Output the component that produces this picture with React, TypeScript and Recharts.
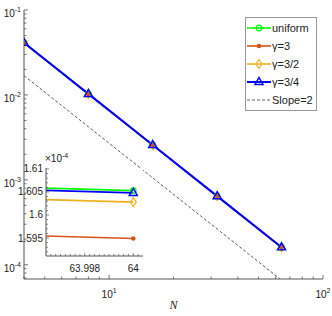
import { CartesianGrid, Legend, Line, LineChart, XAxis, YAxis } from "recharts";

// convergence data, N = number of elements
const nValues = [4, 8, 16, 32, 64];
const uniformErr = [0.04115, 0.01029, 0.002572, 6.43e-4, 1.6053e-4];
const gamma3Err = [0.0409, 0.01022, 0.002556, 6.39e-4, 1.5949e-4];
const gamma32Err = [0.04105, 0.01026, 0.002566, 6.415e-4, 1.6028e-4];
const gamma34Err = [0.04112, 0.01028, 0.002571, 6.43e-4, 1.6048e-4];
const slopeRef = [0.016875, 0.0042188, 0.0010547, 2.637e-4, 6.59e-5];

const seriesNames = ["uniform", "γ=3", "γ=3/2", "γ=3/4", "Slope=2"];

// main axis ticks
const xMajor = [10, 100];
const xTicks = [4, 5, 6, 7, 8, 9, 10, 20, 30, 40, 50, 60, 70, 80, 90, 100];
const yMajor = [1e-4, 1e-3, 1e-2, 1e-1];
const yTicks = [
  7e-5, 8e-5, 9e-5, 1e-4, 2e-4, 3e-4, 4e-4, 5e-4, 6e-4, 7e-4, 8e-4, 9e-4,
  1e-3, 2e-3, 3e-3, 4e-3, 5e-3, 6e-3, 7e-3, 8e-3, 9e-3,
  1e-2, 2e-2, 3e-2, 4e-2, 5e-2, 6e-2, 7e-2, 8e-2, 9e-2, 1e-1,
];

// inset (zoom near N = 64), y values in units of 1e-4
const insetXLabels = [63.998, 64];
const insetXTicks = [
  63.9966, 63.9968, 63.997, 63.9972, 63.9974, 63.9976, 63.9978, 63.998,
  63.9982, 63.9984, 63.9986, 63.9988, 63.999, 63.9992, 63.9994, 63.9996,
  63.9998, 64, 64.0002,
];
const insetYLabels = [1.595, 1.6, 1.605, 1.61];
const insetYTicks = [
  1.592, 1.593, 1.594, 1.595, 1.596, 1.597, 1.598, 1.599, 1.6, 1.601, 1.602,
  1.603, 1.604, 1.605, 1.606, 1.607, 1.608, 1.609, 1.61,
];

const GREEN = "#00ff00";
const RED = "#d95319";
const YELLOW = "#edb120";
const BLUE = "#0000ff";
const AX = "#555";
const FONT = "'Liberation Sans', Arial, Helvetica, sans-serif";

const rows = nValues.map((n, i) => ({
  N: n,
  uniform: uniformErr[i],
  g3: gamma3Err[i],
  g32: gamma32Err[i],
  g34: gamma34Err[i],
  slope: slopeRef[i],
}));
const insetRows = rows.filter((r) => r.N >= 32);

const near = (v: number, list: number[]) =>
  list.some((m) => Math.abs(m - v) <= Math.abs(m) * 1e-7);

type Side = "bottom" | "top" | "left" | "right";

function tickDir(side: Side, len: number) {
  if (side === "bottom") return [0, -len];
  if (side === "top") return [0, len];
  if (side === "left") return [len, 0];
  return [-len, 0];
}

function LogTick(props: any) {
  const { x = 0, y = 0, payload, side, label } = props;
  const v = payload?.value ?? 0;
  const major = near(v, side === "bottom" || side === "top" ? xMajor : yMajor);
  const [dx, dy] = tickDir(side, major ? 4 : 2.5);
  const exp = String(Math.round(Math.log10(v)));
  return (
    <g>
      <line x1={x} y1={y} x2={x + dx} y2={y + dy} stroke={AX} strokeWidth={0.8} />
      {label && major && side === "bottom" && (
        <text x={x} y={y + 19} textAnchor="middle" fontSize={10} fontFamily={FONT} fill="#222">
          10<tspan dy={-5} fontSize={7}>{exp}</tspan>
        </text>
      )}
      {label && major && side === "left" && (
        <text x={x - 3} y={y + 7} textAnchor="end" fontSize={10} fontFamily={FONT} fill="#222">
          10<tspan dy={-5} fontSize={7}>{exp}</tspan>
        </text>
      )}
    </g>
  );
}

function InsetTick(props: any) {
  const { x = 0, y = 0, payload, side, label } = props;
  const v = payload?.value ?? 0;
  const horiz = side === "bottom" || side === "top";
  const major = horiz ? near(v, insetXLabels) : near(v * 1e4, insetYLabels);
  const [dx, dy] = tickDir(side, major ? 3 : 2);
  return (
    <g>
      <line x1={x} y1={y} x2={x + dx} y2={y + dy} stroke={AX} strokeWidth={0.7} />
      {label && major && side === "bottom" && (
        <text x={x} y={y + 16} textAnchor="middle" fontSize={10} fontFamily={FONT} fill="#222">
          {String(parseFloat(v.toFixed(4)))}
        </text>
      )}
      {label && major && side === "left" && (
        <text x={x - 3} y={y + 3.5} textAnchor="end" fontSize={10} fontFamily={FONT} fill="#222">
          {String(parseFloat((v * 1e4).toFixed(4)))}
        </text>
      )}
    </g>
  );
}

function Marker({ kind, cx, cy, color }: { kind: string; cx: number; cy: number; color: string }) {
  if (kind === "circle")
    return <circle cx={cx} cy={cy} r={2.8} fill="none" stroke={color} strokeWidth={1.2} />;
  if (kind === "dot") return <circle cx={cx} cy={cy} r={2.3} fill={color} />;
  if (kind === "diamond")
    return (
      <polygon
        points={`${cx},${cy - 4.5} ${cx + 3},${cy} ${cx},${cy + 4.5} ${cx - 3},${cy}`}
        fill="none"
        stroke={color}
        strokeWidth={1.2}
      />
    );
  if (kind === "triangle")
    return (
      <polygon
        points={`${cx},${cy - 4.5} ${cx + 4},${cy + 2.5} ${cx - 4},${cy + 2.5}`}
        fill="none"
        stroke={color}
        strokeWidth={1.5}
      />
    );
  return null;
}

const series = [
  { key: "uniform", name: seriesNames[0], color: GREEN, marker: "circle", width: 1.6 },
  { key: "g3", name: seriesNames[1], color: RED, marker: "dot", width: 1.6 },
  { key: "g32", name: seriesNames[2], color: YELLOW, marker: "diamond", width: 1.6 },
  { key: "g34", name: seriesNames[3], color: BLUE, marker: "triangle", width: 2 },
];

function makeDot(kind: string, color: string, onlyLast: boolean) {
  return (p: any) => {
    if (p.cx == null || p.cy == null || (onlyLast && p.payload?.N !== 64))
      return <g key={`d-${p.index}`} />;
    return (
      <g key={`d-${p.index}`}>
        <Marker kind={kind} cx={p.cx} cy={p.cy} color={color} />
      </g>
    );
  };
}

function LegendBox() {
  const items = [...series, { key: "slope", name: seriesNames[4], color: "#333", marker: "none", width: 1 }];
  return (
    <div
      style={{
        border: "1px solid #999",
        background: "#fff",
        width: 70,
        padding: "1px 0",
        fontFamily: FONT,
        fontSize: 11,
        color: "#222",
      }}
    >
      {items.map((it) => (
        <div key={it.key} style={{ height: 18, display: "flex", alignItems: "center" }}>
          <svg width={26} height={18} style={{ flex: "none" }}>
            <line
              x1={1}
              y1={9}
              x2={25}
              y2={9}
              stroke={it.color}
              strokeWidth={it.key === "slope" ? 0.8 : it.width}
              strokeDasharray={it.key === "slope" ? "3 2" : undefined}
            />
            <Marker kind={it.marker} cx={13} cy={9} color={it.color} />
          </svg>
          <span style={{ whiteSpace: "nowrap" }}>{it.name}</span>
        </div>
      ))}
    </div>
  );
}

export default function App() {
  return (
    <div style={{ position: "absolute", left: 0, top: 0, width: 332, height: 316, background: "#fff" }}>
      <LineChart width={332} height={316} data={rows} margin={{ top: 10, right: 9, bottom: 0, left: 0 }}>
        <XAxis
          dataKey="N"
          type="number"
          scale="log"
          domain={[4, 100]}
          allowDataOverflow
          ticks={xTicks}
          interval={0}
          tickSize={0}
          tickMargin={0}
          tickLine={false}
          height={37}
          axisLine={{ stroke: AX }}
          tick={(p: any) => <LogTick {...p} side="bottom" label />}
          label={{
            content: ({ viewBox }: any) => (
              <text
                x={viewBox.x + viewBox.width / 2}
                y={viewBox.y + viewBox.height - 7}
                textAnchor="middle"
                fontFamily="'Liberation Serif', 'Times New Roman', serif"
                fontStyle="italic"
                fontSize={12}
                fill="#222"
              >
                N
              </text>
            ),
          }}
        />
        <XAxis
          xAxisId="top"
          orientation="top"
          type="number"
          scale="log"
          domain={[4, 100]}
          allowDataOverflow
          ticks={xTicks}
          interval={0}
          tickSize={0}
          tickMargin={0}
          tickLine={false}
          height={0}
          axisLine={{ stroke: AX }}
          tick={(p: any) => <LogTick {...p} side="top" />}
        />
        <YAxis
          type="number"
          scale="log"
          domain={[6.8e-5, 0.1]}
          allowDataOverflow
          ticks={yTicks}
          interval={0}
          tickSize={0}
          tickMargin={0}
          tickLine={false}
          width={24}
          axisLine={{ stroke: AX }}
          tick={(p: any) => <LogTick {...p} side="left" label />}
        />
        <YAxis
          yAxisId="right"
          orientation="right"
          type="number"
          scale="log"
          domain={[6.8e-5, 0.1]}
          allowDataOverflow
          ticks={yTicks}
          interval={0}
          tickSize={0}
          tickMargin={0}
          tickLine={false}
          width={0}
          axisLine={{ stroke: AX }}
          tick={(p: any) => <LogTick {...p} side="right" />}
        />
        <Line
          dataKey="slope"
          name={seriesNames[4]}
          stroke="#333"
          strokeWidth={0.8}
          strokeDasharray="3 2"
          dot={false}
          isAnimationActive={false}
        />
        {series.map((s) => (
          <Line
            key={s.key}
            dataKey={s.key}
            name={s.name}
            stroke={s.color}
            strokeWidth={s.width}
            dot={makeDot(s.marker, s.color, false)}
            isAnimationActive={false}
          />
        ))}
        <Legend
          layout="vertical"
          align="center"
          verticalAlign="middle"
          content={() => <LegendBox />}
          wrapperStyle={{ left: 245, top: 17, width: 72 }}
        />
      </LineChart>

      <div style={{ position: "absolute", left: 8, top: 150 }}>
        <LineChart width={140} height={124} data={insetRows} margin={{ top: 18, right: 5, bottom: 1, left: 0 }}>
          <CartesianGrid horizontal={false} vertical={false} fill="#fff" stroke="none" />
          <XAxis
            dataKey="N"
            type="number"
            domain={[63.9964, 64.0004]}
            allowDataOverflow
            ticks={insetXTicks}
            interval={0}
            tickSize={0}
            tickMargin={0}
            tickLine={false}
            height={17}
            axisLine={{ stroke: AX }}
            tick={(p: any) => <InsetTick {...p} side="bottom" label />}
          />
          <XAxis
            xAxisId="top"
            orientation="top"
            type="number"
            domain={[63.9964, 64.0004]}
            allowDataOverflow
            ticks={insetXTicks}
            interval={0}
            tickSize={0}
            tickMargin={0}
            tickLine={false}
            height={0}
            axisLine={{ stroke: AX }}
            tick={(p: any) => <InsetTick {...p} side="top" />}
          />
          <YAxis
            type="number"
            domain={[1.5911e-4, 1.6102e-4]}
            allowDataOverflow
            ticks={insetYTicks.map((t) => t * 1e-4)}
            interval={0}
            tickSize={0}
            tickMargin={0}
            tickLine={false}
            width={38}
            axisLine={{ stroke: AX }}
            tick={(p: any) => <InsetTick {...p} side="left" label />}
            label={{
              content: ({ viewBox }: any) => (
                <text
                  x={viewBox.x + viewBox.width - 1}
                  y={viewBox.y - 6}
                  fontSize={10}
                  fontFamily={FONT}
                  fill="#222"
                >
                  ×10<tspan dy={-4} fontSize={7}>-4</tspan>
                </text>
              ),
            }}
          />
          <YAxis
            yAxisId="right"
            orientation="right"
            type="number"
            domain={[1.5911e-4, 1.6102e-4]}
            allowDataOverflow
            ticks={insetYTicks.map((t) => t * 1e-4)}
            interval={0}
            tickSize={0}
            tickMargin={0}
            tickLine={false}
            width={0}
            axisLine={{ stroke: AX }}
            tick={(p: any) => <InsetTick {...p} side="right" />}
          />
          {series.map((s) => (
            <Line
              key={s.key}
              dataKey={s.key}
              stroke={s.color}
              strokeWidth={1.6}
              dot={makeDot(s.marker, s.color, true)}
              isAnimationActive={false}
            />
          ))}
        </LineChart>
      </div>
    </div>
  );
}
